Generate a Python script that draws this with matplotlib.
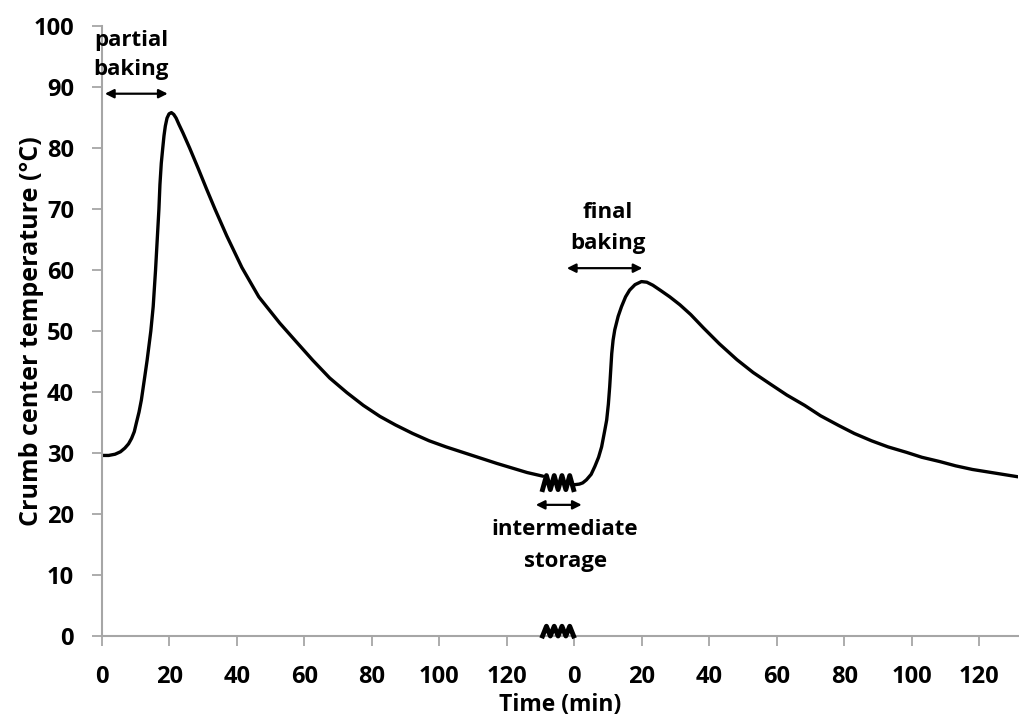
import matplotlib.pyplot as plt
import numpy as np

plt.rcParams['font.family'] = ['Open Sans', 'DejaVu Sans']
plt.rcParams['font.weight'] = 'bold'

# partial baking + cooling (time in min)
t_partial = [0, 2, 3.9, 5.5, 6.8, 7.9, 8.8, 9.6, 10.2, 11, 11.7, 12.7, 13.4, 14.5,
             15.2, 15.9, 16.4, 16.9, 17.2, 17.6, 18.0, 18.4, 18.8, 19.3, 19.9,
             20.6, 21.3, 22.0, 22.8, 24, 26, 28.5, 31, 33.5, 37, 41.5, 46.5, 52.7,
             57.5, 62.5, 67.5, 72.6, 77.5, 82.4, 87, 92.1, 97, 102, 107, 112, 117,
             121.8, 126, 130.7]
temp_partial = [29.6, 29.6, 29.8, 30.2, 30.8, 31.5, 32.4, 33.5, 34.9, 36.7, 38.7,
                42.5, 45.2, 50.0, 54.0, 60.0, 65.0, 70.0, 74.0, 77.5, 79.8, 82.0,
                83.6, 84.9, 85.6, 85.8, 85.5, 84.9, 83.9, 82.5, 80.0, 76.7, 73.3,
                70.0, 65.6, 60.4, 55.6, 51.3, 48.3, 45.2, 42.3, 39.9, 37.8, 36.0,
                34.6, 33.2, 32.0, 31.0, 30.1, 29.2, 28.3, 27.5, 26.8, 26.2]

# final baking + cooling (time in min, restarts at 0 after storage)
t_final = [0, 1.5, 2.5, 3.6, 5, 6.1, 7.2, 8.1, 9, 9.6, 10.1, 10.5, 10.8, 11.1,
           11.5, 12, 13, 14, 15.2, 16.4, 18, 19.9, 21.5, 23.3, 25.7, 28.3, 31.3,
           34.5, 38.3, 43, 48.2, 53, 58.1, 63, 68.3, 73, 78.4, 83, 88.1, 93, 98.5,
           103, 108.3, 113, 118, 122.5, 127, 131.5]
temp_final = [24.8, 24.9, 25.1, 25.6, 26.5, 27.8, 29.3, 31.0, 33.6, 35.4, 38.0,
              40.9, 43.6, 46.3, 48.5, 50.2, 52.4, 54.0, 55.6, 56.7, 57.6, 58.1,
              58.0, 57.5, 56.6, 55.6, 54.3, 52.7, 50.5, 47.9, 45.3, 43.2, 41.3,
              39.5, 37.8, 36.1, 34.5, 33.2, 32.0, 31.0, 30.1, 29.3, 28.6, 27.9,
              27.3, 26.9, 26.5, 26.1]

tick_labels = [0, 20, 40, 60, 80, 100, 120]
offset = 140  # where the second time axis starts

fig = plt.figure(figsize=(10.19, 7.18), dpi=100)
ax = fig.add_axes([0.100, 0.1142, 0.899, 0.8496])

ax.plot(t_partial, temp_partial, color='black', lw=2.4, solid_capstyle='round',
        solid_joinstyle='round')
ax.plot(np.array(t_final) + offset, temp_final, color='black', lw=2.4,
        solid_capstyle='round', solid_joinstyle='round')

ax.set_xlim(0, 271.5)
ax.set_ylim(0, 100)
ax.set_yticks(range(0, 101, 10))
xt = tick_labels + [v + offset for v in tick_labels]
ax.set_xticks(xt)
ax.set_xticklabels([str(v) for v in tick_labels] * 2)
ax.tick_params(axis='y', labelsize=17, length=7, width=1.3, color='#a6a6a6',
               direction='out', pad=13)
ax.tick_params(axis='x', labelsize=17, length=7, width=1.3, color='#a6a6a6',
               direction='out', pad=14)

for s in ['top', 'right']:
    ax.spines[s].set_visible(False)
for s in ['left', 'bottom']:
    ax.spines[s].set_color('#a6a6a6')
    ax.spines[s].set_linewidth(1.5)

ax.set_ylabel('Crumb center temperature (°C)', fontsize=18, fontweight='bold')
ax.yaxis.set_label_coords(-0.063, 0.5)
ax.set_xlabel('Time (min)', fontsize=16.5, fontweight='bold')
ax.xaxis.set_label_coords(0.5, -0.093)

# break markers
zx = np.linspace(130.6, 139.8, 9)
zy = np.array([0, 1, 0, 1, 0, 1, 0, 1, 0])
ax.plot(zx, 24.0 + zy * 2.3, color='black', lw=3.5, clip_on=False, zorder=5)
ax.plot(zx, 0.0 + zy * 1.6, color='black', lw=3.5, clip_on=False, zorder=5)

# annotations
arrow = dict(arrowstyle='<|-|>', color='black', lw=1.6, mutation_scale=13,
             shrinkA=0, shrinkB=0)
ax.annotate('', xy=(0.9, 88.9), xytext=(19.5, 88.9), arrowprops=arrow,
            annotation_clip=False)
ax.text(8.6, 95.2, 'partial\nbaking', ha='center', va='center', fontsize=16,
        fontweight='bold', linespacing=1.5)

ax.annotate('', xy=(137.8, 60.3), xytext=(160.2, 60.3), arrowprops=arrow)
ax.text(150.0, 66.9, 'final\nbaking', ha='center', va='center', fontsize=16,
        fontweight='bold', linespacing=1.65)

ax.annotate('', xy=(128.6, 21.5), xytext=(142.2, 21.5), arrowprops=arrow)
ax.text(137.3, 14.85, 'intermediate\nstorage', ha='center', va='center',
        fontsize=16, fontweight='bold', linespacing=1.7)

fig.savefig('out.png', dpi=100)
